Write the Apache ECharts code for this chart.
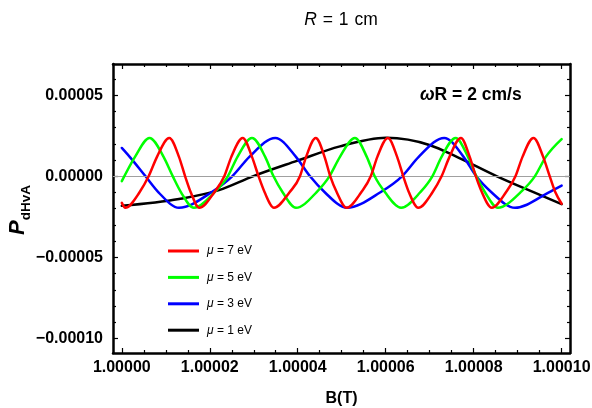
<!DOCTYPE html>
<html><head><meta charset="utf-8">
<script src="https://cdn.jsdelivr.net/npm/echarts@6/dist/echarts.min.js"></script>
<style>html,body{margin:0;padding:0;background:#fff}#c{width:592px;height:408px}</style>
</head><body><div id="c"></div>
<script>
// ---- data ----
const seriesNames = ['μ = 7 eV', 'μ = 5 eV', 'μ = 3 eV', 'μ = 1 eV'];
const seriesColors = ['#ff0000', '#00ff00', '#0000ff', '#000000'];

const redB = [1.0000000, 1.0000008, 1.0000040, 1.0000061, 1.0000080, 1.0000108, 1.0000130, 1.0000144, 1.0000157, 1.0000176,
              1.0000210, 1.0000233, 1.0000249, 1.0000275, 1.0000296, 1.0000311, 1.0000325, 1.0000346,
              1.0000381, 1.0000405, 1.0000419, 1.0000441, 1.0000461, 1.0000474, 1.0000489, 1.0000511,
              1.0000544, 1.0000566, 1.0000581, 1.0000605, 1.0000626, 1.0000640, 1.0000653, 1.0000674,
              1.0000706, 1.0000727, 1.0000745, 1.0000771, 1.0000791, 1.0000805, 1.0000819, 1.0000841,
              1.0000873, 1.0000895, 1.0000911, 1.0000936, 1.0000958, 1.0000973, 1.0000986, 1.0001000];
const redP = [-1.64e-5, -1.94e-5, -1.0e-5, 0, 1.2e-5, 2.37e-5, 1.2e-5, 0, -1.0e-5, -1.94e-5,
              -1.0e-5, 0, 1.2e-5, 2.37e-5, 1.2e-5, 0, -1.0e-5, -1.94e-5,
              -1.0e-5, 0, 1.2e-5, 2.37e-5, 1.2e-5, 0, -1.0e-5, -1.94e-5,
              -1.0e-5, 0, 1.2e-5, 2.37e-5, 1.2e-5, 0, -1.0e-5, -1.94e-5,
              -1.0e-5, 0, 1.2e-5, 2.37e-5, 1.2e-5, 0, -1.0e-5, -1.94e-5,
              -1.0e-5, 0, 1.2e-5, 2.37e-5, 1.2e-5, 0, -1.0e-5, -1.69e-5];

const greenB = [1.0000000, 1.0000030, 1.0000063, 1.0000095, 1.0000116, 1.0000135, 1.0000164,
                1.0000210, 1.0000241, 1.0000263, 1.0000296, 1.0000326, 1.0000345, 1.0000366, 1.0000396,
                1.0000442, 1.0000472, 1.0000496, 1.0000530, 1.0000557, 1.0000575, 1.0000599, 1.0000635,
                1.0000678, 1.0000706, 1.0000727, 1.0000759, 1.0000787, 1.0000806, 1.0000826, 1.0000855,
                1.0000906, 1.0000939, 1.0000964, 1.0001000];
const greenP = [-0.30e-5, 1.2e-5, 2.37e-5, 1.2e-5, 0, -1.0e-5, -1.94e-5,
                -1.0e-5, 0, 1.2e-5, 2.37e-5, 1.2e-5, 0, -1.0e-5, -1.94e-5,
                -1.0e-5, 0, 1.2e-5, 2.37e-5, 1.2e-5, 0, -1.0e-5, -1.94e-5,
                -1.0e-5, 0, 1.2e-5, 2.37e-5, 1.2e-5, 0, -1.0e-5, -1.94e-5,
                -1.0e-5, 0, 1.2e-5, 2.30e-5];

const blueB = [1.0000000, 1.0000018, 1.0000054, 1.0000084, 1.0000130, 1.0000203, 1.0000251, 1.0000290, 1.0000349,
               1.0000396, 1.0000428, 1.0000462, 1.0000512, 1.0000587, 1.0000637, 1.0000675, 1.0000733,
               1.0000777, 1.0000806, 1.0000841, 1.0000894, 1.0000970, 1.0001000];
const blueP = [1.75e-5, 1.2e-5, 0, -1.0e-5, -1.94e-5, -1.0e-5, 0, 1.2e-5, 2.37e-5,
               1.2e-5, 0, -1.0e-5, -1.94e-5, -1.0e-5, 0, 1.2e-5, 2.37e-5,
               1.2e-5, 0, -1.0e-5, -1.94e-5, -1.0e-5, -0.57e-5];

const blackB = [1.0000000, 1.0000130, 1.0000221, 1.0000298, 1.0000398, 1.0000496, 1.0000601, 1.0000701, 1.0000764, 1.0000853, 1.0000936, 1.0001000];
const blackP = [-1.82e-5, -1.40e-5, -0.85e-5, 0, 0.95e-5, 1.85e-5, 2.38e-5, 1.92e-5, 1.17e-5, 0, -0.98e-5, -1.72e-5];

const xMajorTicks = [1.00000, 1.00002, 1.00004, 1.00006, 1.00008, 1.00010];
const xMinorTicks = [1.000005, 1.00001, 1.000015, 1.000025, 1.00003, 1.000035, 1.000045, 1.00005, 1.000055, 1.000065, 1.00007, 1.000075, 1.000085, 1.00009, 1.000095];
const yMajorTicks = [-0.0001, -0.00005, 0, 0.00005];
const yMinorTicks = [-0.00009, -0.00008, -0.00007, -0.00006, -0.00004, -0.00003, -0.00002, -0.00001, 0.00001, 0.00002, 0.00003, 0.00004, 0.00006];

const xMin = 0.999998, xMax = 1.0001019;
const yMin = -0.000109, yMax = 0.0000693;

// ---- chart ----
const FONT = '"Liberation Sans", Arial, Helvetica, sans-serif';
const zip = (a, b) => a.map((v, i) => [v, b[i]]);
const seriesData = [zip(redB, redP), zip(greenB, greenP), zip(blueB, blueP), zip(blackB, blackP)];

function xAx(pos, ticks, len, line, labels) {
  return {
    type: 'value', position: pos, min: xMin, max: xMax,
    axisLine: { show: line, onZero: false, lineStyle: { color: '#000', width: 2.5 } },
    axisTick: { show: true, inside: true, length: len, customValues: ticks, lineStyle: { color: '#000', width: 1.2 } },
    axisLabel: labels ? { show: true, customValues: ticks, formatter: v => v.toFixed(5), fontFamily: FONT, fontWeight: 'bold', fontSize: 16, color: '#000', margin: 7 } : { show: false },
    splitLine: { show: false }
  };
}
function yAx(pos, ticks, len, line, labels) {
  return {
    type: 'value', position: pos, min: yMin, max: yMax,
    axisLine: { show: line, onZero: false, lineStyle: { color: '#000', width: 2.5 } },
    axisTick: { show: true, inside: true, length: len, customValues: ticks, lineStyle: { color: '#000', width: 1.2 } },
    axisLabel: labels ? { show: true, customValues: ticks, formatter: v => (v < 0 ? '\u2212' : '') + Math.abs(v).toFixed(5), fontFamily: FONT, fontWeight: 'bold', fontSize: 16, color: '#000', margin: 10 } : { show: false },
    splitLine: { show: false }
  };
}

const xAxes = [
  xAx('bottom', xMajorTicks, 5, true, true),
  xAx('bottom', xMinorTicks, 3, false, false),
  xAx('top', xMajorTicks, 5, true, false),
  xAx('top', xMinorTicks, 3, false, false)
];
Object.assign(xAxes[0], {
  name: 'B(T)', nameLocation: 'middle', nameGap: 38,
  nameTextStyle: { fontFamily: FONT, fontWeight: 'bold', fontSize: 16, color: '#000' }
});
const yAxes = [
  yAx('left', yMajorTicks, 5, true, true),
  yAx('left', yMinorTicks, 3, false, false),
  yAx('right', yMajorTicks, 5, true, false),
  yAx('right', yMinorTicks, 3, false, false)
];

// monotone cubic (in x) smoothing of the points after mapping them through the axes
function monotonePath(pts) {
  const n = pts.length;
  const t = new Array(n).fill(0);
  const sl = [];
  for (let i = 0; i < n - 1; i++) sl.push((pts[i + 1][1] - pts[i][1]) / (pts[i + 1][0] - pts[i][0]));
  for (let i = 1; i < n - 1; i++) {
    const h0 = pts[i][0] - pts[i - 1][0], h1 = pts[i + 1][0] - pts[i][0];
    const s0 = sl[i - 1], s1 = sl[i];
    const p = (s0 * h1 + s1 * h0) / (h0 + h1);
    t[i] = (Math.sign(s0) + Math.sign(s1)) * Math.min(Math.abs(s0), Math.abs(s1), 0.5 * Math.abs(p)) || 0;
  }
  t[0] = (3 * sl[0] - t[1]) / 2;
  t[n - 1] = (3 * sl[n - 2] - t[n - 2]) / 2;
  let d = 'M' + pts[0][0] + ' ' + pts[0][1];
  for (let i = 0; i < n - 1; i++) {
    const dx = (pts[i + 1][0] - pts[i][0]) / 3;
    d += ' C' + (pts[i][0] + dx) + ' ' + (pts[i][1] + dx * t[i]) + ' ' +
         (pts[i + 1][0] - dx) + ' ' + (pts[i + 1][1] - dx * t[i + 1]) + ' ' +
         pts[i + 1][0] + ' ' + pts[i + 1][1];
  }
  return d;
}

// draw order: black first, red on top
const order = [3, 2, 1, 0];
const series = order.map(i => ({
  name: seriesNames[i], type: 'custom', data: seriesData[i],
  xAxisIndex: 0, yAxisIndex: 0, encode: { x: 0, y: 1 },
  itemStyle: { color: seriesColors[i] },
  z: 3 + (3 - i),
  renderItem: (params, api) => {
    if (params.dataIndex !== 0) return null;
    const pts = seriesData[i].map(p => api.coord(p));
    return {
      type: 'path',
      shape: { pathData: monotonePath(pts) },
      style: { stroke: seriesColors[i], lineWidth: 2.5, fill: null, lineJoin: 'round', lineCap: 'round' }
    };
  }
}));
series.unshift({
  type: 'line', data: [], xAxisIndex: 0, yAxisIndex: 0, z: 1,
  markLine: {
    silent: true, symbol: 'none', animation: false,
    label: { show: false },
    lineStyle: { color: '#a0a0a0', width: 1.2, type: 'solid' },
    data: [{ yAxis: 0 }]
  }
});

const option = {
  animation: false,
  backgroundColor: '#fff',
  grid: { left: 113, right: 22, top: 64, bottom: 55, containLabel: false, outerBoundsMode: 'none' },
  xAxis: xAxes,
  yAxis: yAxes,
  legend: {
    data: seriesNames, orient: 'vertical', left: 163, top: 239,
    icon: 'rect', itemWidth: 31, itemHeight: 3, itemGap: 12.4,
    selectedMode: false,
    formatter: n => '{i|μ}' + n.slice(1),
    textStyle: { fontFamily: FONT, fontSize: 12, color: '#000', lineHeight: 14, padding: [0, 0, 0, 3],
      rich: { i: { fontFamily: FONT, fontSize: 12, fontStyle: 'italic', color: '#000' } } }
  },
  graphic: [
    { type: 'text', x: 341, y: 20, style: { text: '{i|R}\u2004=\u20041\u2004cm', align: 'center', verticalAlign: 'middle',
        font: '17.5px ' + FONT, fill: '#000',
        rich: { i: { fontFamily: FONT, fontSize: 17.5, fontStyle: 'italic', fill: '#000' } } } },
    { type: 'text', x: 420, y: 95, style: { text: '{w|ω}R = 2 cm/s', align: 'left', verticalAlign: 'middle',
        font: 'bold 17.5px ' + FONT, fill: '#000',
        rich: { w: { fontFamily: FONT, fontSize: 17.5, fontWeight: 'bold', fontStyle: 'italic', fill: '#000' } } } },
    { type: 'text', x: 20, y: 210, rotation: Math.PI / 2,
      style: { text: '{p|P}{s|dHvA}', align: 'center', verticalAlign: 'middle', fill: '#000',
        font: 'bold 16px ' + FONT,
        rich: {
          p: { fontFamily: FONT, fontSize: 22, fontWeight: 'bold', fontStyle: 'italic', fill: '#000', verticalAlign: 'top', lineHeight: 26 },
          s: { fontFamily: FONT, fontSize: 13.5, fontWeight: 'bold', fill: '#000', verticalAlign: 'bottom', lineHeight: 14 }
        } } }
  ],
  series: series
};

const chart = echarts.init(document.getElementById('c'), null, { renderer: 'canvas' });
chart.setOption(option);
</script>
</body></html>
